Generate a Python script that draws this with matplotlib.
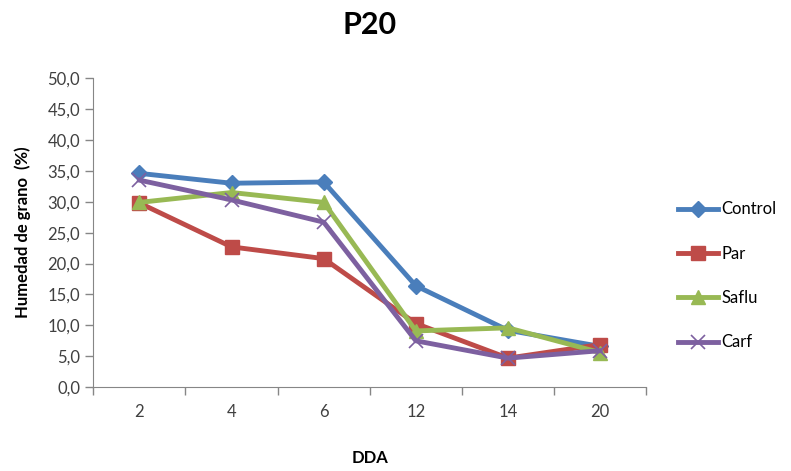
import numpy as np
import matplotlib
matplotlib.use("Agg")
import matplotlib.pyplot as plt
from matplotlib.ticker import FuncFormatter

plt.rcParams['font.family'] = ['Lato', 'DejaVu Sans']

# datos
dda = ['2', '4', '6', '12', '14', '20']
control = [34.6, 33.0, 33.2, 16.4, 9.2, 6.6]
par = [29.8, 22.7, 20.8, 10.3, 4.7, 6.9]
saflu = [29.9, 31.5, 29.9, 9.1, 9.6, 5.6]
carf = [33.5, 30.3, 26.7, 7.5, 4.7, 5.9]

fig = plt.figure(figsize=(7.91, 4.71), dpi=100)
ax = fig.add_axes([0.118, 0.178, 0.699, 0.656])

x = np.arange(len(dda))
ax.plot(x, control, color='#4A7EBB', lw=3.5, marker='D', ms=8, label='Control')
ax.plot(x, par, color='#BE4B48', lw=3.5, marker='s', ms=10, label='Par')
ax.plot(x, saflu, color='#98B954', lw=3.5, marker='^', ms=10, label='Saflu')
ax.plot(x, carf, color='#7D60A0', lw=3.5, marker='x', ms=10, mew=1.2,
        label='Carf')

ax.set_xlim(-0.5, len(dda) - 0.5)
ax.set_ylim(0, 50)
ax.set_yticks(np.arange(0, 51, 5))
ax.yaxis.set_major_formatter(FuncFormatter(lambda v, p: f"{v:.1f}".replace('.', ',')))
ax.set_xticks(x)
ax.set_xticklabels(dda)
ax.set_xticks(np.arange(-0.5, len(dda)), minor=True)
ax.tick_params(axis='x', which='major', length=0, pad=12)
ax.tick_params(axis='x', which='minor', length=6, color='#868686', width=1)
ax.tick_params(axis='y', length=6, color='#868686', width=1)
ax.tick_params(labelsize=12, labelcolor='#404040')

for s in ['top', 'right']:
    ax.spines[s].set_visible(False)
for s in ['left', 'bottom']:
    ax.spines[s].set_color('#868686')

ax.set_title('P20', fontsize=22, fontweight='bold', pad=32)
ax.set_xlabel('DDA', fontsize=12, fontweight='bold', labelpad=22)
ax.set_ylabel('Humedad de grano  (%)', fontsize=12, fontweight='bold', labelpad=12)

ax.legend(loc='center left', bbox_to_anchor=(1.03, 0.36), frameon=False,
          fontsize=12, labelspacing=1.7, handlelength=2.4, handletextpad=0.2)

fig.savefig('out.png', dpi=100)
